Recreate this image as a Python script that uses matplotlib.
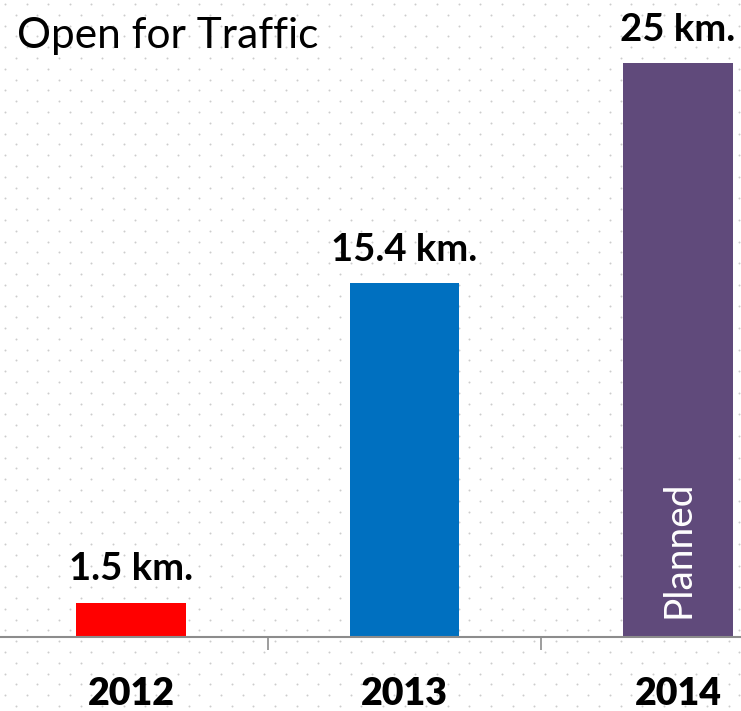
import matplotlib
matplotlib.use('Agg')
import matplotlib.pyplot as plt
import numpy as np

years = ['2012', '2013', '2014']
lengths = [1.5, 15.4, 25]
value_labels = ['1.5 km.', '15.4 km.', '25 km.']
bar_colors = ['#FF0000', '#0070C0', '#604A7B']
title = 'Open for Traffic'
planned_label = 'Planned'

W, H = 741, 711
fig = plt.figure(figsize=(W / 100, H / 100), dpi=100)

# dotted background pattern (staggered rows)
bg = fig.add_axes([0, 0, 1, 1])
bg.set_xlim(0, W)
bg.set_ylim(H, 0)
bg.axis('off')
step = 10.8
dx, dy = [], []
for r, yy in enumerate(np.arange(4, H, step)):
    x0 = 5 if r % 2 == 0 else 5 + step
    for xx in np.arange(x0, W, 2 * step):
        dx.append(xx)
        dy.append(yy)
bg.scatter(dx, dy, s=2, color='#cccccc', linewidths=0)

base_px = 637
px_per_unit = 22.96
ax = fig.add_axes([0, (H - base_px) / H, 1, base_px / H])
ax.patch.set_alpha(0)
x = np.arange(len(years))
ax.bar(x, lengths, width=0.4, color=bar_colors, zorder=2)
ax.set_xlim(-131 / 273.5, (W - 131) / 273.5)
ax.set_ylim(0, base_px / px_per_unit)

for s in ['top', 'left', 'right']:
    ax.spines[s].set_visible(False)
ax.spines['bottom'].set_color('#8c8c8c')
ax.spines['bottom'].set_linewidth(1.5)
ax.set_yticks([])
ax.set_xticks([0.5, 1.5])
ax.set_xticklabels([])
ax.tick_params(axis='x', direction='out', length=9.5, width=1.2, color='#8c8c8c')

for i, v in enumerate(lengths):
    ax.annotate(value_labels[i], (x[i], v), xytext=(0, 16), textcoords='offset points',
                ha='center', va='baseline', fontsize=27.5, fontweight='bold',
                family=['Lato', 'DejaVu Sans'], color='black')
    ax.annotate(years[i], (x[i], 0), xytext=(0, -49), textcoords='offset points',
                ha='center', va='baseline', fontsize=27, fontweight='heavy',
                family=['Lato', 'DejaVu Sans'], color='black', annotation_clip=False)

ax.annotate(planned_label, (x[2], 0), xytext=(0, 14), textcoords='offset points',
            ha='center', va='bottom', rotation=90, fontsize=28,
            family=['Lato', 'DejaVu Sans'], color='white')

fig.text(17 / W, 1 - 48 / H, title, ha='left', va='baseline', fontsize=30.5,
         family=['Lato', 'DejaVu Sans'], color='black')

fig.savefig('out.png', dpi=100)
